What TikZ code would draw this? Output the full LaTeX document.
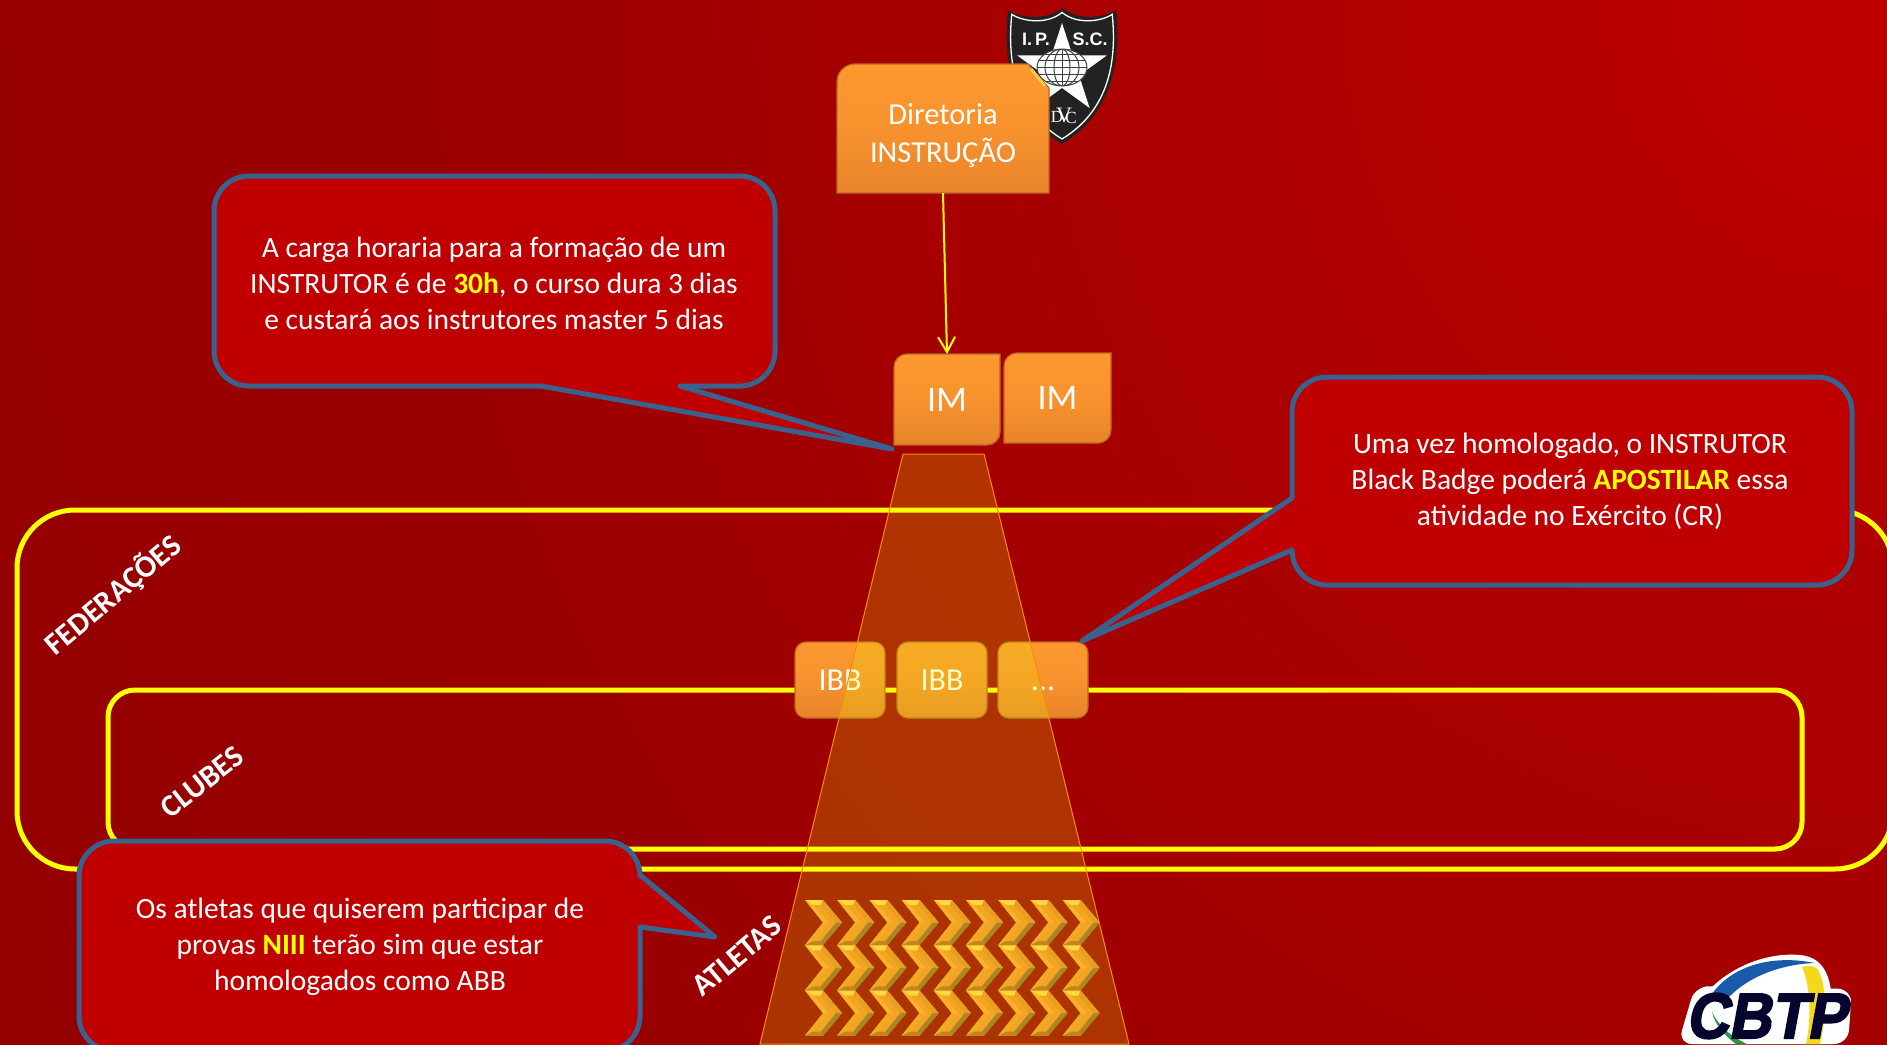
\documentclass[tikz,border=0pt]{standalone}
\usepackage{fontspec}
\setmainfont{Carlito}
\newfontfamily\logofont[BoldFeatures={FakeSlant=0.2,FakeBold=3}]{Liberation Sans}
\newfontfamily\ipscfont{Liberation Sans}
\newfontfamily\monofont{Liberation Serif}
\usetikzlibrary{arrows.meta,shapes.geometric}
\definecolor{yl}{RGB}{255,255,0}
\definecolor{beamfill}{RGB}{230,255,0}
\definecolor{callfill}{RGB}{192,0,0}
\definecolor{callline}{RGB}{58,98,142}
\definecolor{c0}{RGB}{192,0,0}\definecolor{c1}{RGB}{174,0,0}\definecolor{c2}{RGB}{155,0,0}\definecolor{c3}{RGB}{148,0,0}\definecolor{c4}{RGB}{140,0,0}\definecolor{c5}{RGB}{132,0,0}
\definecolor{b0}{RGB}{130,84,30}\definecolor{b1}{RGB}{186,104,34}\definecolor{b2}{RGB}{220,124,40}\definecolor{b3}{RGB}{248,146,46}\definecolor{b4}{RGB}{255,154,48}\definecolor{b5}{RGB}{255,200,78}\definecolor{b6}{RGB}{252,186,64}\definecolor{b7}{RGB}{216,140,42}
\pgfdeclareradialshading{bgshade}{\pgfpoint{0bp}{0bp}}{color(0bp)=(c0);color(6.5bp)=(c1);color(16bp)=(c2);color(21.7bp)=(c3);color(30bp)=(c4);color(41bp)=(c5);color(50bp)=(c5)}
\pgfdeclareverticalshading{bevel}{100bp}{color(0bp)=(b0);color(4bp)=(b1);color(9bp)=(b2);color(50bp)=(b3);color(86bp)=(b4);color(91bp)=(b5);color(97bp)=(b6);color(100bp)=(b7)}
\def\fsz#1#2{\fontsize{#1}{#2}\selectfont}
\newcommand{\hl}[1]{\textbf{\textcolor{yl}{#1}}}
\tikzset{
  zone/.style={draw=yl,line width=5pt},
  beam/.style={fill=beamfill,fill opacity=.2,draw=orange!90!yellow,draw opacity=1,line width=1pt},
  bevbox/.style={shading=bevel,draw=b1,line width=1.2pt},
  ibbox/.style={bevbox,rounded corners=11pt,minimum width=90pt,minimum height=76pt,inner sep=0pt,outer sep=0pt,text=white,font=\fsz{32}{36}},
  imbox/.style={inner sep=0pt,outer sep=0pt,text=white,font=\fsz{36}{40}},
  callout/.style={fill=callfill,draw=callline,line width=5pt,line join=round},
  calltext/.style={text=white,align=center,inner sep=0pt,font=\fsz{29.5}{36}},
  slanted/.style={text=white,inner sep=0pt,font=\fsz{31}{34}\bfseries},
  chev/.pic={
    \coordinate (A) at (0,0);\coordinate (B) at (18,0);\coordinate (C) at (37,22.5);\coordinate (D) at (18,45);\coordinate (E) at (0,45);\coordinate (F) at (18,22.5);
    \coordinate (a) at (8,5);\coordinate (b) at (16,5);\coordinate (c) at (31,22.5);\coordinate (d) at (16,41);\coordinate (e) at (8,41);\coordinate (f) at (24,22.5);
    \fill[chevmain] (A)--(B)--(C)--(D)--(E)--(F)--cycle;
    \fill[chevtop] (A)--(B)--(b)--(a)--cycle;
    \fill[chevur] (B)--(C)--(c)--(b)--cycle;
    \fill[chevlr] (C)--(D)--(d)--(c)--cycle;
    \fill[chevbot] (D)--(E)--(e)--(d)--cycle;
    \fill[chevll] (E)--(F)--(f)--(e)--cycle;
    \fill[chevul] (F)--(A)--(a)--(f)--cycle;
  },
  chevmain/.style={fill={rgb,255:red,244;green,164;blue,36}},
  chevtop/.style={fill={rgb,255:red,255;green,216;blue,64}},
  chevur/.style={fill={rgb,255:red,232;green,158;blue,30}},
  chevlr/.style={fill={rgb,255:red,168;green,134;blue,34}},
  chevbot/.style={fill={rgb,255:red,190;green,136;blue,30}},
  chevll/.style={fill={rgb,255:red,240;green,170;blue,36}},
  chevul/.style={fill={rgb,255:red,250;green,178;blue,40}},
}
\begin{document}
\begin{tikzpicture}[x=1pt,y=-1pt]
\useasboundingbox (0,0) rectangle (1887,1044);
\begin{scope}
\clip (0,0) rectangle (1887,1044);
\shade[shading=bgshade] (1887,0) circle (2300pt);

% zones
\draw[zone,rounded corners=58pt] (17,510) rectangle (1893,869);
\draw[zone,rounded corners=27pt] (108,690) rectangle (1802,849);

% IBB boxes
\node[ibbox] (ibb1) at (840,680) {\raisebox{-2pt}{IBB}};
\node[ibbox] (ibb2) at (942,680) {\raisebox{-2pt}{IBB}};
\node[ibbox] (ibb3) at (1043,680) {\raisebox{-2pt}{\vphantom{IBB}...}};

% beam
\path[beam] (903,454) -- (984,454) -- (1129,1044) -- (760,1044) -- cycle;

% chevrons
\foreach \r in {0,1,2}{\foreach \c in {0,...,8}{
  \pic at ({805+32.2*\c},{900+45.3*\r}) {chev};
}}

% IPSC shield
\def\shieldpath{(1008,10) .. controls (1018,17) and (1045,22) .. (1062,8) .. controls (1079,22) and (1106,17) .. (1116,10) .. controls (1120,50) and (1118,110) .. (1062,144) .. controls (1006,110) and (1004,50) .. (1008,10) -- cycle}
\fill[fill={rgb,255:red,34;green,34;blue,34}] \shieldpath;
\begin{scope}[shift={(1062,72)},scale=.93,shift={(-1062,-72)}]
\draw[white,line width=1.3pt] \shieldpath;
\end{scope}
\node[star,star points=5,star point ratio=2.618,minimum size=94pt,inner sep=0pt,fill=white] (ipscstar) at (1062,70) {};
\begin{scope}
\clip (1062,67.5) ellipse [x radius=25,y radius=18.5];
\fill[white] (1037,49) rectangle (1087,86);
\foreach \yy in {54,60.5,67.5,74.5,81}{\draw[black!75,line width=1pt] (1037,\yy) -- (1087,\yy);}
\foreach \rr in {8,17}{\draw[black!75,line width=1pt] (1062,67.5) ellipse [x radius=\rr,y radius=18.5];}
\draw[black!75,line width=1pt] (1062,49) -- (1062,86);
\end{scope}
\draw[black!75,line width=1pt] (1062,67.5) ellipse [x radius=25,y radius=18.5];
\node[text=white,inner sep=0pt,font=\ipscfont\fsz{18}{18}\bfseries] (ipscl) at (1036,39) {I.\,P.};
\node[text=white,inner sep=0pt,font=\ipscfont\fsz{18}{18}\bfseries] (ipscr) at (1090,39) {S.C.};
\node[text=white,inner sep=0pt,font=\monofont\fsz{17}{18}] (ipscd) at (1057,117) {D};
\node[text=white,inner sep=0pt,font=\monofont\fsz{22}{24}] (ipscv) at (1064,115) {V};
\node[text=white,inner sep=0pt,font=\monofont\fsz{17}{18}] (ipscc) at (1071,118) {C};

% Diretoria box
\path[bevbox] (837,193) -- (837,84) [rounded corners=18pt] -- (837,64) [sharp corners] -- (1028,64) -- (1049,88) -- (1049,193) -- cycle;
\draw[b5,line width=3pt] (1031,69) -- (1045,86);
\node[minimum width=212pt,minimum height=129pt,inner sep=0pt,outer sep=0pt] (dir) at (943,128.5) {};
\node[inner sep=0pt,text=white,align=center,font=\fsz{30.5}{38}] (dirtext) at (943,136) {Diretoria\\INSTRUÇÃO};

% IM boxes
\path[bevbox] (894,445) -- (894,372) [rounded corners=13pt] -- (894,354) [sharp corners] -- (1000,354) -- (1000,420) [rounded corners=13pt] -- (1000,445) [sharp corners] -- cycle;
\node[imbox,minimum width=106pt,minimum height=91pt] (im1) at (947,399.5) {\raisebox{-3pt}{IM}};
\path[bevbox] (1004,443) -- (1004,370) [rounded corners=13pt] -- (1004,353) [sharp corners] -- (1111,353) -- (1111,420) [rounded corners=13pt] -- (1111,443) [sharp corners] -- cycle;
\node[imbox,minimum width=107pt,minimum height=90pt] (im2) at (1057.5,398) {\raisebox{-2pt}{IM}};

% connector
\draw[yl,line width=2pt,-{Straight Barb[length=15pt,width=17pt]}] (dir.south) -- (im1.north);

% callouts
\draw[callout] (892,449) -- (541,386) [rounded corners=35pt] -- (214,386) -- (214,176) -- (775,176) -- (775,386) [sharp corners] -- (680,386) -- cycle;
\node[calltext] (t1) at (494,283) {A carga horaria para a formação de um\\INSTRUTOR é de \hl{30h}, o curso dura 3 dias\\e custará aos instrutores master 5 dias};

\draw[callout] (1082,641) -- (1292,498) [rounded corners=35pt] -- (1292,377) -- (1852,377) -- (1852,585) -- (1292,585) [sharp corners] -- (1292,550) -- cycle;
\node[calltext] (t2) at (1570,481) {Uma vez homologado, o INSTRUTOR\\Black Badge poderá \hl{APOSTILAR} essa\\atividade no Exército (CR)};

\draw[callout] (715,937) -- (640,927) [rounded corners=35pt] -- (640,1051) -- (79,1051) -- (79,841) -- (640,841) [sharp corners] -- (640,875) -- cycle;
\node[calltext] (t3) at (360,947) {Os atletas que quiserem participar de\\provas \hl{NIII} terão sim que estar\\homologados como ABB};

% rotated labels
\node[slanted,rotate=40] (fed) at (113,595) {FEDERAÇÕES};
\node[slanted,rotate=38] (clu) at (202,782) {CLUBES};
\node[slanted,rotate=40] (atl) at (737,956) {ATLETAS};

% CBTP logo
\fill[white] (1700,1000) .. controls (1725,968) and (1765,952) .. (1800,955) .. controls (1820,957) and (1830,970) .. (1832,1000) -- (1832,1044) -- (1700,1044) -- cycle;
\fill[white,rounded corners=14pt] (1695,986) -- (1852,989) -- (1848,1044) -- (1678,1044) -- cycle;
\fill[fill={rgb,255:red,26;green,90;blue,170}] (1708,1000) .. controls (1725,970) and (1765,953) .. (1815,963) .. controls (1785,964) and (1750,974) .. (1726,1000) -- cycle;
\fill[fill={rgb,255:red,245;green,215;blue,30}] (1802,967) .. controls (1810,965) and (1816,966) .. (1818,970) .. controls (1826,985) and (1828,1010) .. (1820,1044) -- (1806,1044) .. controls (1812,1015) and (1810,985) .. (1802,967) -- cycle;
\fill[fill={rgb,255:red,40;green,150;blue,70}] (1712,1012) .. controls (1718,1025) and (1730,1036) .. (1747,1044) -- (1736,1044) .. controls (1725,1036) and (1715,1025) .. (1712,1012) -- cycle;
\node[text={rgb,255:red,5;green,5;blue,45},inner sep=0pt,font=\logofont\fsz{64}{70}\bfseries,xscale=.92] (cbtp) at (1766,1016) {CBTP};
\end{scope}
\end{tikzpicture}
\end{document}
